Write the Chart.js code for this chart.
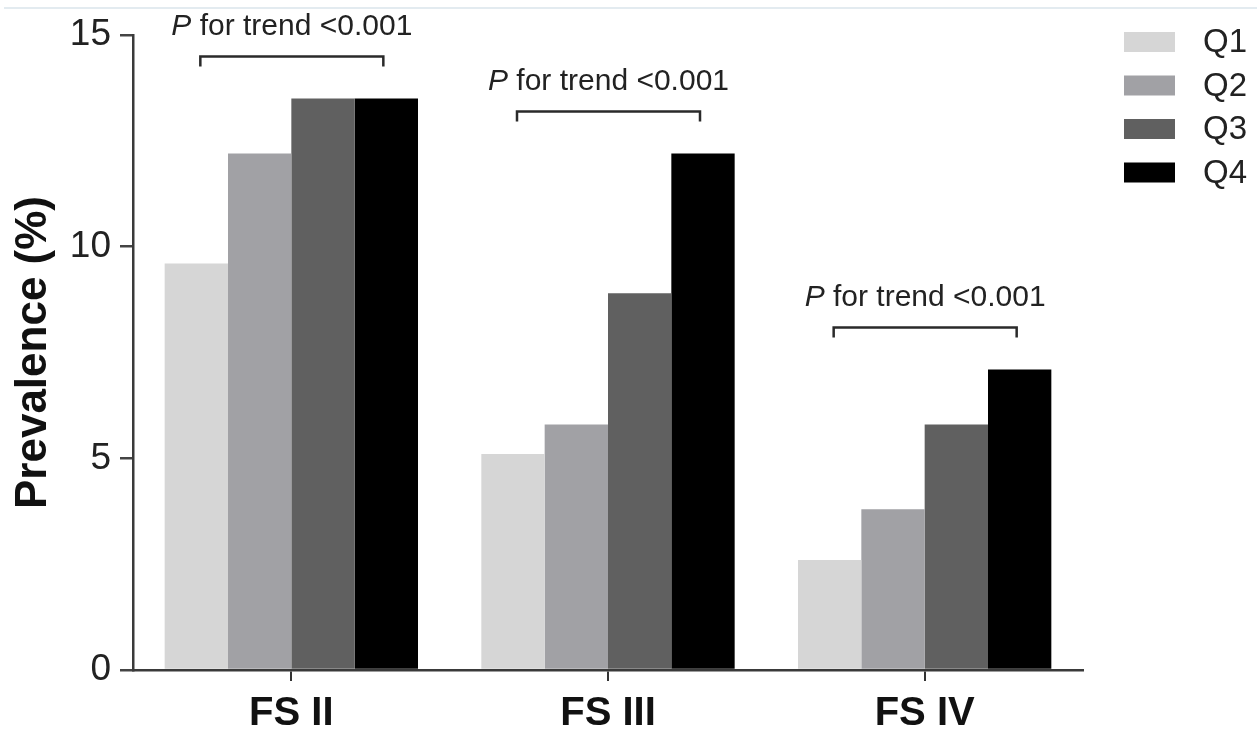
<!DOCTYPE html>
<html>
<head>
<meta charset="utf-8">
<script src="https://cdn.jsdelivr.net/npm/chart.js@4.4.0/dist/chart.umd.min.js"></script>
<style>
  html, body { margin: 0; padding: 0; background: #fff; }
  #wrap { width: 1257px; height: 736px; position: relative; }
</style>
</head>
<body>
<div id="wrap"><canvas id="myChart" width="1257" height="736"></canvas></div>
<script>
// Données
const categories = ['FS II', 'FS III', 'FS IV'];
const q1 = [9.6, 5.1, 2.6];
const q2 = [12.2, 5.8, 3.8];
const q3 = [13.5, 8.9, 5.8];
const q4 = [13.5, 12.2, 7.1];
const seriesNames = ['Q1', 'Q2', 'Q3', 'Q4'];
const seriesColors = ['#d6d6d6', '#a1a1a5', '#606060', '#000000'];
const trendText = ['<0.001', '<0.001', '<0.001'];
const yTicks = [0, 5, 10, 15];

const FONT = '"Liberation Sans", Arial, Helvetica, sans-serif';

// ligne grise en haut de l'image
const topLine = {
    id: 'topLine',
    beforeDraw(chart) {
        const ctx = chart.ctx;
        ctx.save();
        ctx.strokeStyle = '#e3ebf0';
        ctx.lineWidth = 2;
        ctx.beginPath();
        ctx.moveTo(4, 8);
        ctx.lineTo(1257, 8);
        ctx.stroke();
        ctx.restore();
    }
};

// crochets "P for trend" au-dessus de chaque groupe
const trendBrackets = {
    id: 'trendBrackets',
    afterDatasetsDraw(chart) {
        const ctx = chart.ctx;
        const first = chart.getDatasetMeta(0);
        const last = chart.getDatasetMeta(chart.data.datasets.length - 1);
        ctx.save();
        ctx.strokeStyle = '#2a2a2a';
        ctx.lineWidth = 2.5;
        ctx.fillStyle = '#222';
        categories.forEach((c, i) => {
            let top = Infinity;
            chart.data.datasets.forEach((ds, d) => {
                top = Math.min(top, chart.getDatasetMeta(d).data[i].y);
            });
            const x1 = first.data[i].x + 4;
            const x2 = last.data[i].x - 3;
            const y = top - 42;
            ctx.beginPath();
            ctx.moveTo(x1, y + 10);
            ctx.lineTo(x1, y);
            ctx.lineTo(x2, y);
            ctx.lineTo(x2, y + 10);
            ctx.stroke();

            const italic = 'italic 30px ' + FONT;
            const normal = '30px ' + FONT;
            const rest = ' for trend ' + trendText[i];
            ctx.font = italic;
            const wP = ctx.measureText('P').width;
            ctx.font = normal;
            const wR = ctx.measureText(rest).width;
            const cx = (x1 + x2) / 2;
            const sx = cx - (wP + wR) / 2;
            const ty = y - 30;
            ctx.textBaseline = 'middle';
            ctx.textAlign = 'left';
            ctx.font = italic;
            ctx.fillText('P', sx, ty);
            ctx.font = normal;
            ctx.fillText(rest, sx + wP, ty);
        });
        ctx.restore();
    }
};

// légende à droite
const sideLegend = {
    id: 'sideLegend',
    afterDraw(chart) {
        const ctx = chart.ctx;
        ctx.save();
        ctx.font = '33px ' + FONT;
        ctx.textBaseline = 'middle';
        chart.data.datasets.forEach((ds, i) => {
            const cy = 42 + i * 43.5;
            ctx.fillStyle = ds.backgroundColor;
            ctx.fillRect(1124, cy - 10, 51, 20);
            ctx.fillStyle = '#222';
            ctx.fillText(ds.label, 1203, cy + 1);
        });
        ctx.restore();
    }
};

const datasets = [q1, q2, q3, q4].map((vals, i) => ({
    label: seriesNames[i],
    data: vals,
    backgroundColor: seriesColors[i],
    borderWidth: 0,
    barPercentage: 1.0,
    categoryPercentage: 0.8
}));

const ctx = document.getElementById('myChart').getContext('2d');
const myChart = new Chart(ctx, {
    type: 'bar',
    data: { labels: categories, datasets: datasets },
    options: {
        responsive: false,
        animation: false,
        layout: { padding: { left: 0, right: 174, top: 35, bottom: 0 } },
        plugins: {
            legend: { display: false },
            tooltip: { enabled: false }
        },
        scales: {
            x: {
                grid: { display: true, drawOnChartArea: false, offset: false, tickLength: 11, tickColor: '#333', lineWidth: 2 },
                border: { display: true, color: '#3a3a3a', width: 2.5 },
                ticks: { color: '#111', padding: 9, font: { family: FONT, size: 40, weight: 'bold' } },
                afterFit(scale) { scale.height = 66; }
            },
            y: {
                min: 0,
                max: 15,
                afterBuildTicks(scale) { scale.ticks = yTicks.map(v => ({ value: v })); },
                grid: { display: true, drawOnChartArea: false, tickLength: 13, tickColor: '#444', lineWidth: 2.5 },
                border: { display: true, color: '#3a3a3a', width: 2.5 },
                ticks: { color: '#222', padding: 9, font: { family: FONT, size: 37 } },
                title: {
                    display: true,
                    text: 'Prevalence (%)',
                    color: '#111',
                    padding: { top: 7, bottom: 0 },
                    font: { family: FONT, size: 44, weight: 'bold' }
                },
                afterFit(scale) { scale.width = 133; }
            }
        }
    },
    plugins: [topLine, trendBrackets, sideLegend]
});
</script>
</body>
</html>
